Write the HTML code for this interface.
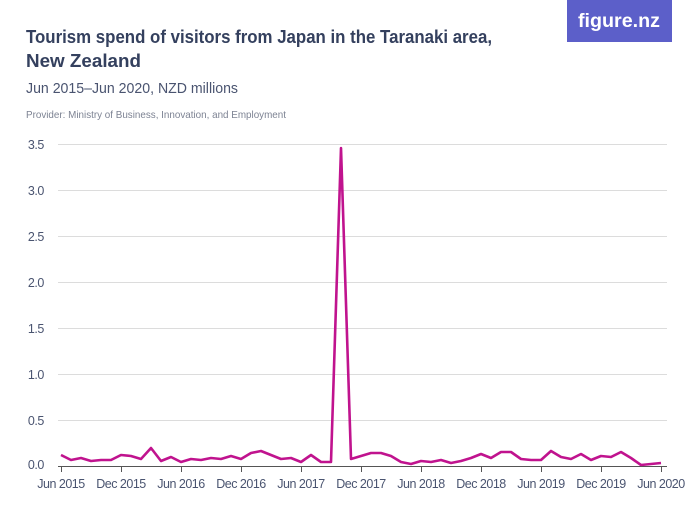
<!DOCTYPE html>
<html><head><meta charset="utf-8"><style>
body{margin:0;background:#fff;width:700px;height:525px;overflow:hidden;font-family:"Liberation Sans",sans-serif}
</style></head><body>
<svg width="700" height="525" xmlns="http://www.w3.org/2000/svg" font-family="Liberation Sans, sans-serif">
<rect x="567" y="0" width="105" height="42" fill="#5c5fc9"/>
<text x="619" y="27" fill="#fff" font-size="19" font-weight="bold" text-anchor="middle" textLength="82" lengthAdjust="spacingAndGlyphs">figure.nz</text>
<text x="26" y="43" fill="#34405e" font-size="18.5" font-weight="bold" textLength="466" lengthAdjust="spacingAndGlyphs">Tourism spend of visitors from Japan in the Taranaki area,</text>
<text x="26" y="67" fill="#34405e" font-size="18.5" font-weight="bold" textLength="115" lengthAdjust="spacingAndGlyphs">New Zealand</text>
<text x="26" y="93" fill="#4a5470" font-size="15" textLength="212" lengthAdjust="spacingAndGlyphs">Jun 2015–Jun 2020, NZD millions</text>
<text x="26" y="118" fill="#7d8393" font-size="10.5" textLength="260" lengthAdjust="spacingAndGlyphs">Provider: Ministry of Business, Innovation, and Employment</text>
<g stroke="#dcdcdc" stroke-width="1">
<line x1="58" x2="667" y1="144.5" y2="144.5"/><line x1="58" x2="667" y1="190.5" y2="190.5"/>
<line x1="58" x2="667" y1="236.5" y2="236.5"/><line x1="58" x2="667" y1="282.5" y2="282.5"/>
<line x1="58" x2="667" y1="328.5" y2="328.5"/><line x1="58" x2="667" y1="374.5" y2="374.5"/>
<line x1="58" x2="667" y1="420.5" y2="420.5"/>
</g>
<g fill="#4a5470" font-size="12.5" text-anchor="end" letter-spacing="-0.4">
<text x="44" y="149">3.5</text><text x="44" y="195">3.0</text><text x="44" y="241">2.5</text>
<text x="44" y="287">2.0</text><text x="44" y="333">1.5</text><text x="44" y="379">1.0</text>
<text x="44" y="425">0.5</text><text x="44" y="469">0.0</text>
</g>
<line x1="58" x2="667" y1="466.5" y2="466.5" stroke="#555" stroke-width="1"/>
<g stroke="#555" stroke-width="1">
<line x1="61.5" x2="61.5" y1="466" y2="472"/><line x1="121.5" x2="121.5" y1="466" y2="472"/>
<line x1="181.5" x2="181.5" y1="466" y2="472"/><line x1="241.5" x2="241.5" y1="466" y2="472"/>
<line x1="301.5" x2="301.5" y1="466" y2="472"/><line x1="361.5" x2="361.5" y1="466" y2="472"/>
<line x1="421.5" x2="421.5" y1="466" y2="472"/><line x1="481.5" x2="481.5" y1="466" y2="472"/>
<line x1="541.5" x2="541.5" y1="466" y2="472"/><line x1="601.5" x2="601.5" y1="466" y2="472"/>
<line x1="661.5" x2="661.5" y1="466" y2="472"/>
</g>
<g fill="#4a5470" font-size="12.5" text-anchor="middle" letter-spacing="-0.5">
<text x="61" y="488">Jun 2015</text><text x="121" y="488">Dec 2015</text><text x="181" y="488">Jun 2016</text>
<text x="241" y="488">Dec 2016</text><text x="301" y="488">Jun 2017</text><text x="361" y="488">Dec 2017</text>
<text x="421" y="488">Jun 2018</text><text x="481" y="488">Dec 2018</text><text x="541" y="488">Jun 2019</text>
<text x="601" y="488">Dec 2019</text><text x="661" y="488">Jun 2020</text>
</g>
<polyline fill="none" stroke="#c0138e" stroke-width="2.6" stroke-linejoin="round" points="61,455 71,460 81,458 91,461 101,460 111,460 121,455 131,456 141,459 151,448 161,461 171,457 181,462 191,459 201,460 211,458 221,459 231,456 241,459 251,453 261,451 271,455 281,459 291,458 301,462 311,455 321,462 331,462 341,148 351,459 361,456 371,453 381,453 391,456 401,462 411,464 421,461 431,462 441,460 451,463 461,461 471,458 481,454 491,458 501,452 511,452 521,459 531,460 541,460 551,451 561,457 571,459 581,454 591,460 601,456 611,457 621,452 631,458 641,465 651,464 661,463"/>
</svg>
</body></html>
